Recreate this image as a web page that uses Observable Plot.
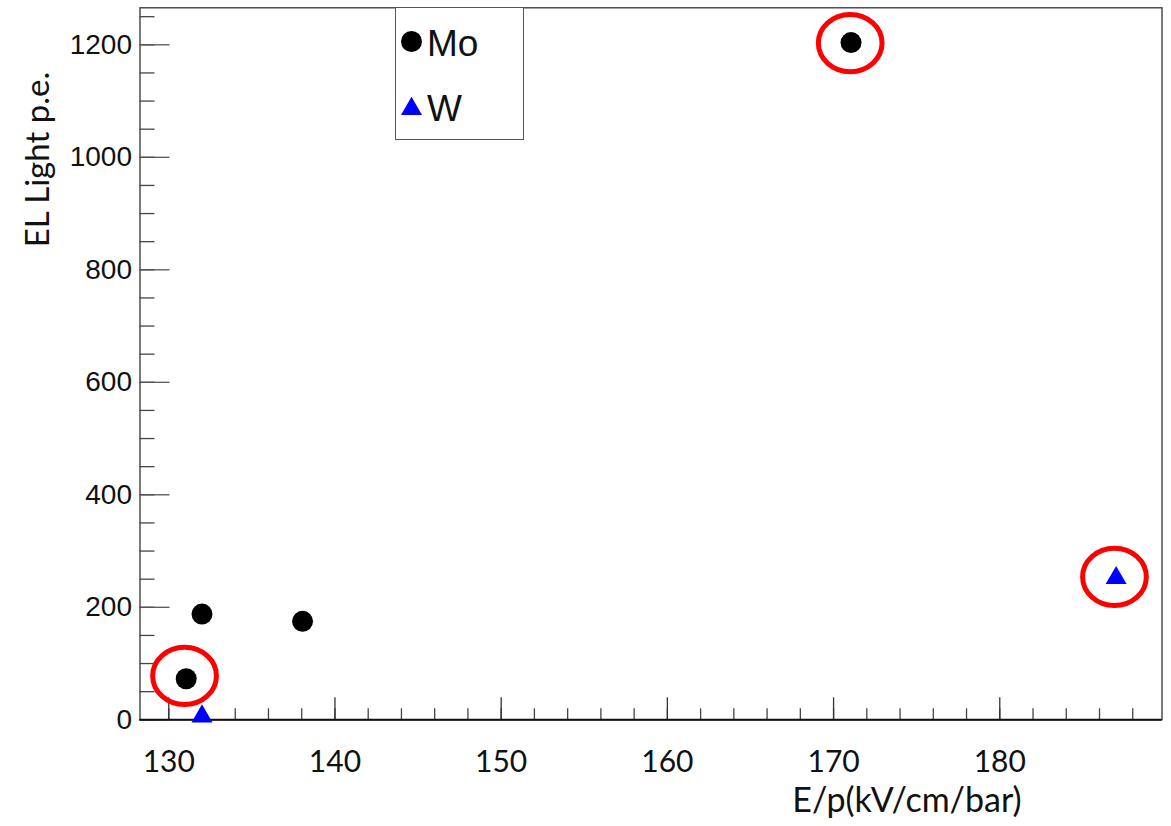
<!DOCTYPE html>
<html>
<head>
<meta charset="utf-8">
<script src="https://cdn.jsdelivr.net/npm/d3@7"></script>
<script src="https://cdn.jsdelivr.net/npm/@observablehq/plot@0.6"></script>
<style>
  html, body { margin: 0; padding: 0; background: #fff; }
  #wrap { position: relative; width: 1171px; height: 826px; overflow: hidden; }
  #legend { position: absolute; left: 395px; top: 7px; width: 129px; height: 133px;
            border: 1.3px solid #555; background: #fff; box-sizing: border-box; }
  #legend svg { position: absolute; left: 0; top: 0; }
</style>
</head>
<body>
<div id="wrap"><div id="chart"></div><div id="legend"></div></div>
<script>
// ---- data ----
const moX = [131.05, 132.0, 138.05, 171.05];
const moY = [73, 188, 175, 1204];
const wX = [132.0, 187.0];
const wY = [6, 252];
const circleX = [130.95, 171.0, 186.9];
const circleY = [78, 1203, 254];
const xDomain = [128.27, 189.76];
const yDomain = [0, 1265.8];
const xMajor = [130, 140, 150, 160, 170, 180];
const xMinor = [130, 132, 134, 136, 138, 140, 142, 144, 146, 148, 150, 152, 154, 156, 158, 160, 162, 164, 166, 168, 170, 172, 174, 176, 178, 180, 182, 184, 186, 188];
const yMajor = [0, 200, 400, 600, 800, 1000, 1200];
const yMinor = [0, 50, 100, 150, 200, 250, 300, 350, 400, 450, 500, 550, 600, 650, 700, 750, 800, 850, 900, 950, 1000, 1050, 1100, 1150, 1200, 1250];
const seriesNames = ["Mo", "W"];
const xTitle = "E/p(kV/cm/bar)";
const yTitle = "EL Light p.e.";

const mo = moX.map((x, i) => ({x, y: moY[i]}));
const w = wX.map((x, i) => ({x, y: wY[i]}));
const circles = circleX.map((x, i) => ({x, y: circleY[i]}));

const W = 1171, H = 826;
const mL = 139.5, mR = 9.5, mT = 7.3, mB = 106.7;
const pw = W - mL - mR, ph = H - mT - mB;

const chart = Plot.plot({
  width: W, height: H,
  marginLeft: mL, marginRight: mR, marginTop: mT, marginBottom: mB,
  style: {background: "white", overflow: "visible"},
  x: {domain: xDomain},
  y: {domain: yDomain},
  marks: [
    Plot.frame({stroke: "#333", strokeWidth: 1.3}),
    Plot.tickX(xMinor, {x: d => d, insetTop: ph - 11, stroke: "#444", strokeWidth: 1.3}),
    Plot.tickX(xMajor, {x: d => d, insetTop: ph - 22, stroke: "#333", strokeWidth: 1.3}),
    Plot.tickY(yMinor, {y: d => d, insetRight: pw - 15, stroke: "#444", strokeWidth: 1.3}),
    Plot.tickY(yMajor, {y: d => d, insetRight: pw - 30, stroke: "#555", strokeWidth: 1.3}),
    Plot.ruleY([0], {stroke: "#111", strokeWidth: 2}),
    Plot.axisX({ticks: xMajor, tickSize: 0, tickPadding: 31, tickFormat: d => String(d), fontSize: 30, fontFamily: "Lato", fill: "#111", label: null}),
    Plot.axisY({ticks: yMajor, tickSize: 0, tickPadding: 8, tickFormat: d => String(d), fontSize: 28, fontFamily: "Liberation Sans", fill: "#111", label: null}),
    Plot.text([xTitle], {frameAnchor: "bottom", textAnchor: "middle", dx: 256, dy: 92.4, lineAnchor: "bottom", fontSize: 34, fontFamily: "Lato", fill: "#111"}),
    Plot.text([yTitle], {frameAnchor: "left", textAnchor: "middle", rotate: -90, dx: -91.2, dy: -204.3, lineAnchor: "bottom", fontSize: 33, fontFamily: "Lato", fill: "#111"}),
    Plot.dot(circles, {x: "x", y: "y", r: 29.5, stroke: "red", strokeWidth: 5, fill: "none"}),
    Plot.dot(mo, {x: "x", y: "y", r: 10.5, fill: "black", symbol: "circle"}),
    Plot.dot(w, {x: "x", y: "y", r: 7.8, fill: "#0000ff", symbol: "triangle"})
  ]
});
document.getElementById("chart").appendChild(chart);

// turn the red annotation circles into slightly wider ellipses
d3.select(chart).selectAll("g[stroke='red'] circle").each(function() {
  const c = d3.select(this);
  const cx = +c.attr("cx"), cy = +c.attr("cy"), r = +c.attr("r") || 29.5;
  const t = c.attr("transform");
  const e = d3.select(this.parentNode).insert("ellipse", () => this)
    .attr("rx", r * 1.08).attr("ry", r * 0.97);
  if (!isNaN(cx)) e.attr("cx", cx).attr("cy", cy);
  if (t) e.attr("transform", t);
  c.remove();
});

// legend
const leg = d3.select("#legend").append("svg").attr("width", 129).attr("height", 133);
const symCircle = d3.symbol(d3.symbolCircle, Math.PI * 10.5 * 10.5)();
const symTri = d3.symbol(d3.symbolTriangle, Math.PI * 7.8 * 7.8)();
leg.append("path").attr("d", symCircle).attr("transform", "translate(15.5,33.5)").attr("fill", "black");
leg.append("text").attr("x", 31).attr("y", 48).attr("font-family", "Liberation Sans").attr("font-size", 37).attr("fill", "#111").text(seriesNames[0]);
leg.append("path").attr("d", symTri).attr("transform", "translate(15.5,101)").attr("fill", "#0000ff");
leg.append("text").attr("x", 31).attr("y", 113).attr("font-family", "Liberation Sans").attr("font-size", 37).attr("fill", "#111").text(seriesNames[1]);
</script>
</body>
</html>
